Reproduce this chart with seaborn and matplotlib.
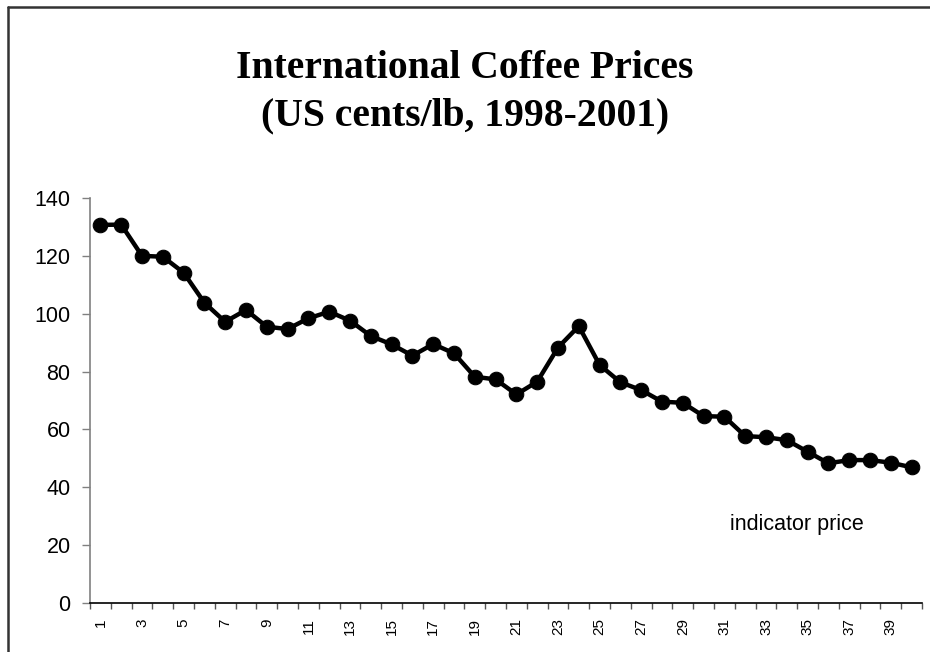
import matplotlib
matplotlib.use("Agg")
import matplotlib.pyplot as plt
import seaborn as sns
import pandas as pd
from matplotlib.lines import Line2D

# ---- data ----
months = list(range(1, 41))
prices = [130.7, 130.8, 120.0, 119.7, 114.2, 103.8, 97.2, 101.3, 95.5, 94.7,
          98.4, 100.7, 97.6, 92.3, 89.4, 85.5, 89.5, 86.3, 78.2, 77.3,
          72.1, 76.5, 88.3, 95.7, 82.3, 76.3, 73.6, 69.6, 69.2, 64.6,
          64.4, 57.7, 57.3, 56.3, 52.3, 48.3, 49.4, 49.4, 48.5, 46.9]
tick_labels = [str(m) for m in months if m % 2 == 1]
title_lines = ["International Coffee Prices", "(US cents/lb, 1998-2001)"]
series_label = "indicator price"

df = pd.DataFrame({"month": months, "price": prices})

sns.set_style("white")
plt.rcParams['font.family'] = ['Liberation Sans', 'DejaVu Sans']
plt.rcParams['text.color'] = 'black'
plt.rcParams['xtick.color'] = 'black'
plt.rcParams['ytick.color'] = 'black'

fig = plt.figure(figsize=(9.3, 6.52), dpi=100)
W, H = 930, 652
ax = fig.add_axes([90 / W, 1 - 603 / H, 832 / W, 405 / H])

sns.lineplot(data=df, x="month", y="price", ax=ax, color="black",
             linewidth=3.2, marker="o", markersize=10.5,
             markeredgecolor="black", markerfacecolor="black")

ax.set_xlim(0.5, 40.5)
ax.set_ylim(0, 140)
ax.set_yticks(range(0, 141, 20))
ax.tick_params(axis="y", labelsize=15.5, length=6, width=1, color="#808080",
               labelcolor="black", direction="out", left=True, pad=8)
# boundary ticks (major), labels at odd months (minor)
ax.set_xticks([m + 0.5 for m in range(0, 41)])
ax.set_xticklabels([])
ax.set_xticks([m for m in months if m % 2 == 1], minor=True)
ax.set_xticklabels(tick_labels, minor=True, rotation=90, fontsize=11)
ax.tick_params(axis="x", which="major", length=4.5, width=1, color="#555555",
               direction="out", bottom=True)
ax.tick_params(axis="x", which="minor", length=0, pad=11, bottom=True,
               labelcolor="black")
ax.set_xlabel("")
ax.set_ylabel("")

for s in ["top", "right"]:
    ax.spines[s].set_visible(False)
ax.spines["left"].set_color("#808080")
ax.spines["left"].set_linewidth(1.2)
ax.spines["bottom"].set_color("black")
ax.spines["bottom"].set_linewidth(1.2)

ax.text(34.5, 27, series_label, ha="center", va="center", fontsize=15.5,
        color="black")

fig.text(0.5, 1 - 69 / H, title_lines[0], ha="center", va="center",
         fontsize=28.5, fontweight="bold", color="black",
         family=["Liberation Serif", "DejaVu Serif"])
fig.text(0.5, 1 - 116 / H, title_lines[1], ha="center", va="center",
         fontsize=28.5, fontweight="bold", color="black",
         family=["Liberation Serif", "DejaVu Serif"])

# outer frame (clipped on right and bottom)
fig.add_artist(Line2D([8 / W, 8 / W], [1 - 7 / H, 0], transform=fig.transFigure,
                      color="#333333", linewidth=1.8))
fig.add_artist(Line2D([8 / W, 1], [1 - 7 / H, 1 - 7 / H], transform=fig.transFigure,
                      color="#333333", linewidth=1.8))

fig.savefig("out.png", dpi=100)
